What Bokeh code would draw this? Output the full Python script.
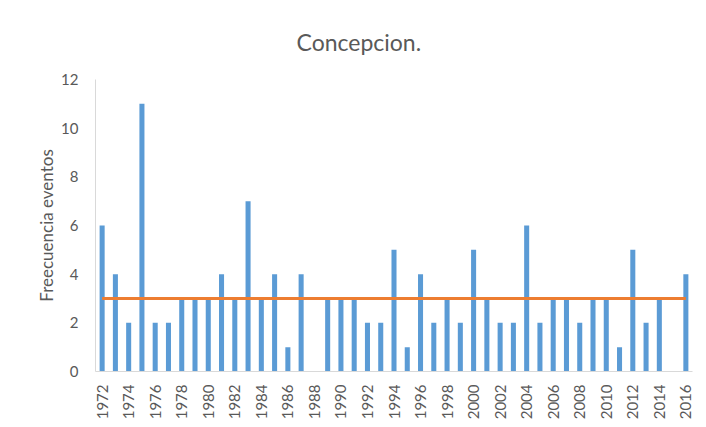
from bokeh.plotting import figure
from bokeh.models import Range1d, FixedTicker, ColumnDataSource
from bokeh.embed import file_html
from bokeh.resources import INLINE
import math

anios = [1972, 1973, 1974, 1975, 1976, 1977, 1978, 1979, 1980, 1981,
         1982, 1983, 1984, 1985, 1986, 1987, 1988, 1989, 1990, 1991,
         1992, 1993, 1994, 1995, 1996, 1997, 1998, 1999, 2000, 2001,
         2002, 2003, 2004, 2005, 2006, 2007, 2008, 2009, 2010, 2011,
         2012, 2013, 2014, 2015, 2016]
frecuencia = [6, 4, 2, 11, 2, 2, 3, 3, 3, 4,
              3, 7, 3, 4, 1, 4, 0, 3, 3, 3,
              2, 2, 5, 1, 4, 2, 3, 2, 5, 3,
              2, 2, 6, 2, 3, 3, 2, 3, 3, 1,
              5, 2, 3, 0, 4]
promedio = [3, 3, 3, 3, 3, 3, 3, 3, 3, 3,
            3, 3, 3, 3, 3, 3, 3, 3, 3, 3,
            3, 3, 3, 3, 3, 3, 3, 3, 3, 3,
            3, 3, 3, 3, 3, 3, 3, 3, 3, 3,
            3, 3, 3, 3, 3]
y_ticks = [0, 2, 4, 6, 8, 10, 12]
x_ticks = [1972, 1974, 1976, 1978, 1980, 1982, 1984, 1986, 1988, 1990,
           1992, 1994, 1996, 1998, 2000, 2002, 2004, 2006, 2008, 2010,
           2012, 2014, 2016]

FONT = "Lato"
GRAY = "#595959"

src = ColumnDataSource(dict(x=anios, y=frecuencia, m=promedio))

p = figure(frame_width=597, frame_height=292, output_backend="svg", toolbar_location=None,
           x_range=Range1d(1971.5, 2016.5), y_range=Range1d(0, 12),
           title="Concepcion.", min_border_left=95, min_border_right=6,
           min_border_top=79, min_border_bottom=48)

p.vbar(x="x", top="y", width=0.38, source=src, color="#5B9BD5", line_color=None)
p.line(x="x", y="m", source=src, line_color="#ED7D31", line_width=3)

p.title.align = "left"
p.title.offset = 201
p.title.text_font = FONT
p.title.text_font_size = "23px"
p.title.text_font_style = "normal"
p.title.text_color = GRAY
p.title.standoff = 44
p.title.vertical_align = "top"

p.xgrid.visible = False
p.ygrid.visible = False
p.outline_line_color = None
p.background_fill_color = "white"
p.border_fill_color = "white"

p.xaxis.ticker = FixedTicker(ticks=x_ticks)
p.yaxis.ticker = FixedTicker(ticks=y_ticks)
p.xaxis.major_label_orientation = math.pi / 2

for ax in (p.xaxis, p.yaxis):
    ax.major_tick_line_color = None
    ax.minor_tick_line_color = None
    ax.axis_line_color = "#d9d9d9"
    ax.major_label_text_font = FONT
    ax.major_label_text_font_size = "15px"
    ax.major_label_text_color = GRAY

p.xaxis.major_label_standoff = 7
p.yaxis.major_label_standoff = 11

p.yaxis.axis_label = "Freecuencia eventos"
p.yaxis.axis_label_text_font = FONT
p.yaxis.axis_label_text_font_size = "17px"
p.yaxis.axis_label_text_font_style = "normal"
p.yaxis.axis_label_text_color = GRAY
p.yaxis.axis_label_standoff = 1

open("out.html", "w").write(file_html(p, INLINE))
